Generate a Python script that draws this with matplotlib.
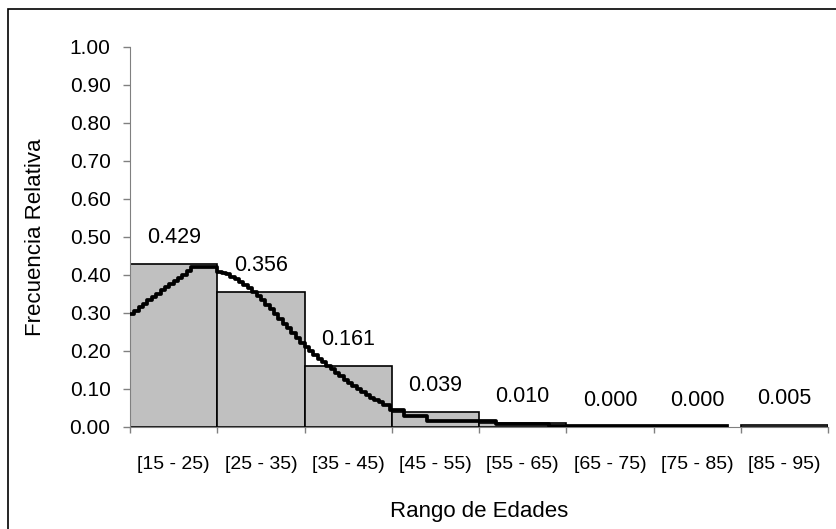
import numpy as np
import matplotlib.pyplot as plt
from matplotlib.patches import Rectangle

plt.rcParams['font.family'] = ['Liberation Sans', 'DejaVu Sans']

# Relative frequency per age range
ranges = ['[15 - 25)', '[25 - 35)', '[35 - 45)', '[45 - 55)',
          '[55 - 65)', '[65 - 75)', '[75 - 85)', '[85 - 95)']
freq = [0.429, 0.356, 0.161, 0.039, 0.010, 0.000, 0.000, 0.005]

# Fitted curve (stair line): age -> value
curve_age = [15.0, 15.5, 16.0, 16.5, 17.0, 17.5, 18.0, 18.5, 19.0, 19.5,
             20.0, 20.5, 21.0, 21.5, 22.0, 25.0, 25.5, 26.0, 26.5, 27.0,
             27.5, 28.0, 28.5, 29.0, 29.5, 30.0, 30.5, 31.0, 31.5, 32.0,
             32.5, 33.0, 33.5, 34.0, 34.5, 35.0, 35.5, 36.0, 36.5, 37.0,
             37.5, 38.0, 38.5, 39.0, 39.5, 40.0, 40.5, 41.0, 41.5, 42.0,
             42.5, 43.0, 43.5, 44.0, 44.8, 46.4, 49.0, 57.0, 63.0, 83.4]
curve_val = [0.297, 0.306, 0.315, 0.324, 0.333, 0.342, 0.351, 0.360,
             0.368, 0.376, 0.384, 0.392, 0.400, 0.410, 0.420, 0.408,
             0.405, 0.402, 0.396, 0.390, 0.382, 0.374, 0.365, 0.356,
             0.345, 0.333, 0.322, 0.310, 0.298, 0.285, 0.272, 0.260,
             0.247, 0.234, 0.222, 0.210, 0.200, 0.190, 0.180, 0.170,
             0.161, 0.152, 0.142, 0.133, 0.124, 0.115, 0.107, 0.099,
             0.091, 0.084, 0.077, 0.071, 0.065, 0.059, 0.046, 0.029,
             0.016, 0.007, 0.002, 0.002]

W, H = 836, 529
fig = plt.figure(figsize=(W / 100, H / 100), dpi=100)
ax = fig.add_axes([130 / W, (H - 427) / H, (828 - 130) / W, (427 - 47) / H])

# outer chart border
fig.patches.append(Rectangle((8 / W, -0.05), 1.1, (H - 9) / H + 0.05,
                             transform=fig.transFigure, fill=False,
                             edgecolor='black', linewidth=1.2))

x = np.arange(len(freq))
edges = ['black' if f > 0 else 'none' for f in freq]
ax.bar(x, freq, width=1.0, align='edge', color='#c0c0c0',
       edgecolor=edges, linewidth=1.2, zorder=2)

cx = (np.array(curve_age) - 15) / 10
ax.plot(cx, curve_val, drawstyle='steps-post', color='black',
        linewidth=2.7, zorder=3)

for xi, f in zip(x, freq):
    ax.annotate(f'{f:.3f}', (xi + 0.5, f), xytext=(0, 19),
                textcoords='offset points', ha='center', va='center',
                fontsize=15.5)

ax.set_xlim(0, 8)
ax.set_ylim(0, 1)
ax.set_yticks(np.arange(0, 1.01, 0.1))
ax.set_yticklabels([f'{v:.2f}' for v in np.arange(0, 1.01, 0.1)])
ax.set_xticks(x + 0.5)
ax.set_xticklabels(ranges)
ax.set_xticks(np.arange(0, 9), minor=True)
ax.tick_params(axis='x', which='major', length=0, pad=21, labelsize=14)
ax.tick_params(axis='x', which='minor', length=4, color='#808080', width=1)
ax.tick_params(axis='y', length=5, color='#808080', width=1, pad=9,
               labelsize=15)

for s in ['top', 'right']:
    ax.spines[s].set_visible(False)
ax.spines['left'].set_color('#808080')
ax.spines['bottom'].set_color('#808080')

ax.set_xlabel('Rango de Edades', fontsize=16, labelpad=20)
ax.set_ylabel('Frecuencia Relativa', fontsize=16, labelpad=17)

fig.savefig('out.png', dpi=100)
